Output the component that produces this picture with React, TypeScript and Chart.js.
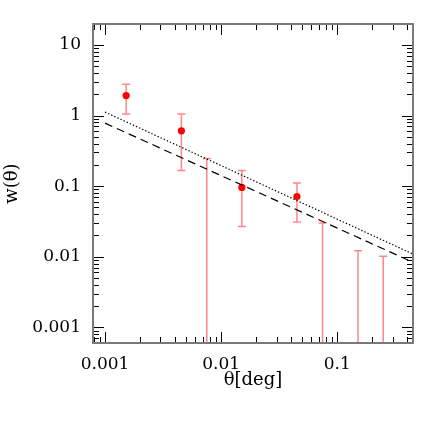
import { useEffect, useRef } from "react";
import { Chart, registerables } from "chart.js";

Chart.register(...registerables);

// Measured data: angular separation (deg) and correlation w(theta)
const thetaDeg = [0.00152, 0.00455, 0.00753, 0.01508, 0.045, 0.0748, 0.151, 0.249];
const wTheta: (number | null)[] = [1.92, 0.608, null, 0.096, 0.0713, null, null, null];
const errHigh = [2.77, 1.05, 0.247, 0.167, 0.111, 0.030, 0.0122, 0.0102];
const errLow = [1.05, 0.166, 0, 0.0269, 0.031, 0, 0, 0]; // 0 => extends below the axis

// Model power laws (endpoints)
const dottedX = [0.001, 0.4495];
const dottedY = [1.12, 0.0109];
const dashedX = [0.001, 0.4495];
const dashedY = [0.78, 0.00834];

// Axis ranges and labelled ticks
const xRange = [0.000788, 0.4495];
const yRange = [0.00062, 19.8];
const xTickValues = [0.001, 0.01, 0.1];
const yTickValues = [0.001, 0.01, 0.1, 1, 10];

const FONT = "'DejaVu Serif', serif";

function logTicks(min: number, max: number) {
  const out: { v: number; major: boolean }[] = [];
  for (let d = Math.floor(Math.log10(min)); d <= Math.ceil(Math.log10(max)); d++) {
    for (let m = 1; m <= 9; m++) {
      const v = m * Math.pow(10, d);
      if (v >= min * 0.9999 && v <= max * 1.0001) out.push({ v, major: m === 1 });
    }
  }
  return out;
}

const framePlugin = {
  id: "frameTicks",
  beforeDatasetsDraw(chart: any) {
    const { ctx, chartArea: a, scales } = chart;
    const xs = scales.x;
    const ys = scales.y;
    ctx.save();
    ctx.beginPath();
    ctx.rect(a.left, a.top, a.right - a.left, a.bottom - a.top);
    ctx.clip();
    ctx.strokeStyle = "rgba(255, 60, 60, 0.62)";
    ctx.lineWidth = 1.5;
    for (let i = 0; i < thetaDeg.length; i++) {
      const x = xs.getPixelForValue(thetaDeg[i]);
      const yTop = ys.getPixelForValue(errHigh[i]);
      const yBot = errLow[i] > 0 ? ys.getPixelForValue(errLow[i]) : a.bottom + 2;
      ctx.beginPath();
      ctx.moveTo(x, yTop);
      ctx.lineTo(x, yBot);
      ctx.moveTo(x - 4, yTop);
      ctx.lineTo(x + 4, yTop);
      if (errLow[i] > 0) {
        ctx.moveTo(x - 4, yBot);
        ctx.lineTo(x + 4, yBot);
      }
      ctx.stroke();
    }
    ctx.restore();
  },
  afterDraw(chart: any) {
    const { ctx, chartArea: a, scales } = chart;
    const xs = scales.x;
    const ys = scales.y;
    ctx.save();
    ctx.strokeStyle = "#000";
    ctx.lineWidth = 1;
    const MAJ = 11;
    const MIN = 6;
    ctx.beginPath();
    for (const t of logTicks(xRange[0], xRange[1])) {
      const x = Math.round(xs.getPixelForValue(t.v)) + 0.5;
      const len = t.major ? MAJ : MIN;
      ctx.moveTo(x, a.bottom);
      ctx.lineTo(x, a.bottom - len);
      ctx.moveTo(x, a.top);
      ctx.lineTo(x, a.top + len);
    }
    for (const t of logTicks(yRange[0], yRange[1])) {
      const y = Math.round(ys.getPixelForValue(t.v)) + 0.5;
      const len = t.major ? MAJ : MIN;
      ctx.moveTo(a.left, y);
      ctx.lineTo(a.left + len, y);
      ctx.moveTo(a.right, y);
      ctx.lineTo(a.right - len, y);
    }
    ctx.stroke();
    ctx.strokeStyle = "#7a7a7a";
    ctx.lineWidth = 2;
    ctx.strokeRect(a.left, a.top, a.right - a.left, a.bottom - a.top);
    ctx.restore();
  },
};

export default function App() {
  const ref = useRef<HTMLCanvasElement>(null);
  useEffect(() => {
    if (!ref.current) return;
    const points = thetaDeg
      .map((x, i) => ({ x, y: wTheta[i] }))
      .filter((p) => p.y !== null);
    const chart = new Chart(ref.current, {
      type: "scatter",
      data: {
        datasets: [
          {
            label: "dotted",
            type: "line",
            data: dottedX.map((x, i) => ({ x, y: dottedY[i] })),
            borderColor: "#000",
            borderWidth: 1.2,
            borderDash: [1.4, 2],
            pointRadius: 0,
            fill: false,
          },
          {
            label: "dashed",
            type: "line",
            data: dashedX.map((x, i) => ({ x, y: dashedY[i] })),
            borderColor: "#000",
            borderWidth: 1.2,
            borderDash: [8, 5],
            pointRadius: 0,
            fill: false,
          },
          {
            label: "w",
            data: points as any,
            backgroundColor: "#ff0000",
            borderWidth: 0,
            pointRadius: 3.6,
          },
        ],
      },
      options: {
        animation: false,
        responsive: false,
        events: [],
        layout: { padding: { top: 24, right: 23, left: 0, bottom: 0 } },
        plugins: { legend: { display: false }, tooltip: { enabled: false } },
        scales: {
          x: {
            type: "logarithmic",
            position: "bottom",
            min: xRange[0],
            max: xRange[1],
            grid: { display: false, drawTicks: false },
            border: { display: false },
            afterBuildTicks: (s: any) => {
              s.ticks = xTickValues.map((v) => ({ value: v }));
            },
            afterFit: (s: any) => {
              s.height = 93;
            },
            ticks: {
              padding: 11,
              color: "#000",
              font: { family: FONT, size: 17 },
              maxRotation: 0,
              callback: (v: any) => String(v),
            },
            title: {
              display: true,
              text: "θ[deg]",
              color: "#000",
              font: { family: FONT, size: 18 },
              padding: { top: 0, bottom: 45 },
            },
          },
          y: {
            type: "logarithmic",
            position: "left",
            min: yRange[0],
            max: yRange[1],
            grid: { display: false, drawTicks: false },
            border: { display: false },
            afterBuildTicks: (s: any) => {
              s.ticks = yTickValues.map((v) => ({ value: v }));
            },
            afterFit: (s: any) => {
              s.width = 93;
            },
            ticks: {
              padding: 12,
              color: "#000",
              font: { family: FONT, size: 17 },
              callback: (v: any) => String(v),
            },
            title: {
              display: true,
              text: "w(θ)",
              color: "#000",
              font: { family: FONT, size: 18 },
              padding: { top: 2, bottom: 0 },
            },
          },
        },
      },
      plugins: [framePlugin],
    });
    return () => chart.destroy();
  }, []);
  return (
    <div style={{ position: "fixed", left: 0, top: 0, width: 436, height: 436, background: "#fff" }}>
      <canvas ref={ref} width={436} height={436} style={{ display: "block" }} />
    </div>
  );
}
